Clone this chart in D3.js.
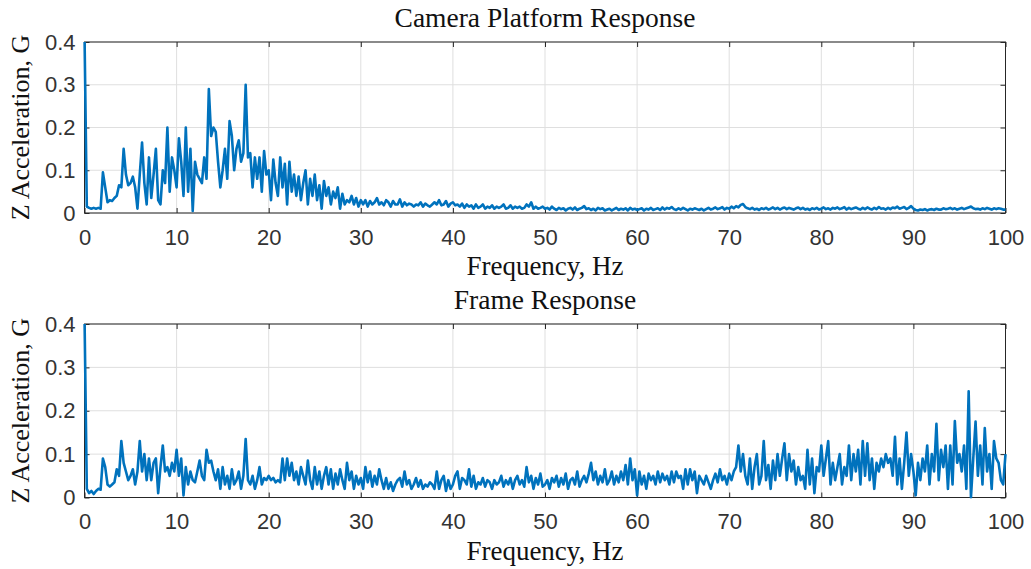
<!DOCTYPE html>
<html>
<head>
<meta charset="utf-8">
<script src="https://cdn.jsdelivr.net/npm/d3@7"></script>
<style>
  html, body { margin: 0; padding: 0; background: #fff; }
  svg { display: block; }
</style>
</head>
<body>
<svg id="chart" width="1031" height="569"></svg>
<script>
// Spectrum bins: 0 to 100 Hz in 0.25 Hz steps
const freqStep = 0.25;

// Camera platform Z acceleration amplitude (G), one row per 1 Hz (4 bins each)
const cameraResponse = [
  0.42, 0.015, 0.012, 0.01,
  0.012, 0.01, 0.012, 0.01,
  0.095, 0.06, 0.025, 0.03,
  0.028, 0.035, 0.04, 0.065,
  0.06, 0.15, 0.09, 0.065,
  0.07, 0.085, 0.06, 0.01,
  0.09, 0.165, 0.07, 0.02,
  0.13, 0.035, 0.09, 0.15,
  0.03, 0.02, 0.1, 0.07,
  0.2, 0.05, 0.13, 0.1,
  0.06, 0.175, 0.12, 0.04,
  0.2, 0.05, 0.15, 0.005,
  0.12, 0.09, 0.08, 0.07,
  0.13, 0.08, 0.29, 0.18,
  0.2, 0.19, 0.12, 0.06,
  0.1, 0.15, 0.08, 0.215,
  0.18, 0.1, 0.15, 0.17,
  0.12, 0.14, 0.3, 0.13,
  0.14, 0.06, 0.13, 0.08,
  0.13, 0.05, 0.145, 0.09,
  0.1, 0.03, 0.125, 0.07,
  0.04, 0.13, 0.06, 0.115,
  0.02, 0.12, 0.05, 0.09,
  0.04, 0.085, 0.03, 0.07,
  0.1, 0.02, 0.08, 0.04,
  0.09, 0.03, 0.065, 0.01,
  0.075, 0.04, 0.06, 0.02,
  0.05, 0.035, 0.06, 0.01,
  0.045, 0.02, 0.03, 0.025,
  0.04, 0.02, 0.035, 0.015,
  0.03, 0.02, 0.03, 0.015,
  0.028, 0.02, 0.025, 0.035,
  0.02, 0.025, 0.018, 0.03,
  0.025, 0.015, 0.028, 0.02,
  0.02, 0.032, 0.015, 0.025,
  0.018, 0.022, 0.02, 0.015,
  0.02, 0.018, 0.025, 0.015,
  0.022, 0.018, 0.015, 0.02,
  0.025, 0.02, 0.03, 0.018,
  0.02, 0.028, 0.015, 0.022,
  0.025, 0.018, 0.02, 0.015,
  0.022, 0.012, 0.02, 0.015,
  0.018, 0.01, 0.02, 0.012,
  0.015, 0.02, 0.01, 0.015,
  0.012, 0.018, 0.01, 0.015,
  0.012, 0.015, 0.02, 0.01,
  0.012, 0.018, 0.01, 0.015,
  0.012, 0.015, 0.01, 0.012,
  0.02, 0.015, 0.025, 0.01,
  0.015, 0.01, 0.012, 0.015,
  0.01, 0.012, 0.008, 0.015,
  0.01, 0.007, 0.012, 0.009,
  0.011, 0.006, 0.01, 0.012,
  0.008, 0.013, 0.007, 0.01,
  0.012, 0.016, 0.009, 0.011,
  0.007, 0.01, 0.006, 0.012,
  0.009, 0.011, 0.006, 0.008,
  0.01, 0.006, 0.009, 0.012,
  0.007, 0.01, 0.008, 0.011,
  0.006, 0.012, 0.008, 0.01,
  0.007, 0.009, 0.011, 0.006,
  0.01, 0.008, 0.012, 0.007,
  0.009, 0.011, 0.007, 0.013,
  0.008, 0.012, 0.01, 0.014,
  0.009, 0.007, 0.011, 0.008,
  0.012, 0.009, 0.006, 0.01,
  0.008, 0.011, 0.009, 0.007,
  0.01, 0.006, 0.009, 0.012,
  0.008, 0.01, 0.013, 0.009,
  0.011, 0.014, 0.008, 0.012,
  0.01, 0.015, 0.011, 0.016,
  0.013, 0.019, 0.021, 0.014,
  0.011, 0.009, 0.012, 0.008,
  0.01, 0.007, 0.011, 0.009,
  0.012, 0.008, 0.01, 0.013,
  0.009, 0.012, 0.008, 0.011,
  0.013, 0.009, 0.012, 0.01,
  0.008, 0.011, 0.013, 0.009,
  0.012, 0.008, 0.01, 0.007,
  0.011, 0.009, 0.012, 0.008,
  0.01, 0.013, 0.009, 0.011,
  0.008, 0.012, 0.01, 0.013,
  0.009, 0.011, 0.014, 0.008,
  0.012, 0.009, 0.011, 0.013,
  0.01, 0.008, 0.012, 0.009,
  0.013, 0.01, 0.008, 0.012,
  0.009, 0.014, 0.01, 0.011,
  0.008, 0.012, 0.009, 0.013,
  0.011, 0.015, 0.01, 0.012,
  0.014, 0.009, 0.012, 0.016,
  0.01, 0.007, 0.006, 0.008,
  0.007, 0.009, 0.006, 0.008,
  0.009, 0.007, 0.01, 0.008,
  0.008, 0.011, 0.009, 0.01,
  0.012, 0.009, 0.011, 0.008,
  0.01, 0.012, 0.009, 0.011,
  0.013, 0.015, 0.011, 0.009,
  0.01, 0.008, 0.011, 0.009,
  0.012, 0.01, 0.008, 0.011,
  0.009, 0.011, 0.01, 0.008,
  0.008
];

// Frame Z acceleration amplitude (G), same bins
const frameResponse = [
  0.42, 0.02, 0.01, 0.015,
  0.008, 0.015, 0.02, 0.018,
  0.09, 0.07, 0.03, 0.025,
  0.03, 0.035, 0.065, 0.05,
  0.13, 0.08, 0.06, 0.04,
  0.05, 0.065, 0.03, 0.06,
  0.13, 0.06, 0.1, 0.04,
  0.09, 0.04, 0.08, 0.09,
  0.01, 0.07, 0.12, 0.06,
  0.07, 0.05, 0.08, 0.06,
  0.11, 0.05, 0.09, 0.005,
  0.07, 0.03, 0.06, 0.04,
  0.035, 0.06, 0.085, 0.05,
  0.04, 0.11, 0.08, 0.085,
  0.06, 0.04, 0.065, 0.02,
  0.07, 0.03, 0.05, 0.02,
  0.065, 0.03, 0.04, 0.06,
  0.02, 0.05, 0.135, 0.04,
  0.03, 0.05, 0.02, 0.04,
  0.07, 0.03, 0.045, 0.04,
  0.05, 0.04, 0.045, 0.035,
  0.04, 0.035, 0.09, 0.04,
  0.09, 0.05, 0.08, 0.04,
  0.06, 0.03, 0.07, 0.05,
  0.03, 0.085, 0.04, 0.02,
  0.07, 0.03, 0.06, 0.02,
  0.05, 0.07, 0.03, 0.065,
  0.02, 0.055, 0.03, 0.065,
  0.04, 0.02, 0.08, 0.04,
  0.06, 0.02, 0.05, 0.03,
  0.045, 0.02, 0.07, 0.035,
  0.06, 0.025, 0.05, 0.03,
  0.065, 0.04, 0.02, 0.045,
  0.02, 0.035, 0.015, 0.03,
  0.04, 0.045, 0.025, 0.06,
  0.03, 0.04, 0.02, 0.03,
  0.045, 0.025, 0.04, 0.02,
  0.03, 0.025, 0.035, 0.03,
  0.02, 0.06, 0.02, 0.04,
  0.05, 0.015, 0.04, 0.02,
  0.03, 0.05, 0.06, 0.02,
  0.045, 0.04, 0.03, 0.065,
  0.025, 0.05, 0.02, 0.035,
  0.03, 0.045, 0.025, 0.04,
  0.035, 0.02, 0.04, 0.03,
  0.035, 0.05, 0.025, 0.04,
  0.03, 0.045, 0.02, 0.04,
  0.05, 0.03, 0.04, 0.025,
  0.07, 0.035, 0.05, 0.02,
  0.045, 0.03, 0.055, 0.025,
  0.03, 0.04, 0.02, 0.045,
  0.035, 0.05, 0.025, 0.045,
  0.03, 0.055, 0.02, 0.04,
  0.045, 0.03, 0.06, 0.025,
  0.04, 0.05, 0.035, 0.055,
  0.08, 0.04, 0.06, 0.03,
  0.05, 0.035, 0.065, 0.03,
  0.04, 0.06, 0.03, 0.05,
  0.035, 0.06, 0.04, 0.075,
  0.03, 0.09, 0.04, 0.065,
  0.005, 0.06, 0.03, 0.05,
  0.02, 0.055, 0.04, 0.05,
  0.03, 0.06, 0.035, 0.055,
  0.04, 0.05, 0.03, 0.06,
  0.035, 0.06, 0.045, 0.05,
  0.02, 0.065, 0.03, 0.065,
  0.04, 0.06, 0.01, 0.05,
  0.04, 0.03, 0.05, 0.035,
  0.02, 0.04, 0.055, 0.035,
  0.065, 0.04, 0.05, 0.03,
  0.055, 0.04, 0.06, 0.07,
  0.12, 0.06, 0.1, 0.05,
  0.03, 0.09, 0.02, 0.07,
  0.1, 0.03, 0.05, 0.13,
  0.04, 0.075, 0.02, 0.085,
  0.04, 0.1, 0.05, 0.09,
  0.125, 0.04, 0.1, 0.06,
  0.085, 0.03, 0.07, 0.04,
  0.05, 0.02, 0.11, 0.03,
  0.09, 0.01, 0.07, 0.06,
  0.12, 0.05, 0.09, 0.13,
  0.03, 0.08, 0.04, 0.07,
  0.1, 0.03, 0.07, 0.05,
  0.12, 0.04, 0.1, 0.06,
  0.11, 0.03, 0.13, 0.05,
  0.125, 0.04, 0.09, 0.02,
  0.08, 0.06, 0.09, 0.07,
  0.1, 0.08, 0.09, 0.05,
  0.14, 0.03, 0.09, 0.02,
  0.08, 0.15, 0.05, 0.1,
  0.06, 0.005, 0.08, 0.04,
  0.09, 0.06, 0.12, 0.03,
  0.1, 0.06, 0.17, 0.04,
  0.11, 0.07, 0.12, 0.02,
  0.12, 0.03, 0.176, 0.08,
  0.1, 0.06, 0.12, 0.02,
  0.245, 0.0, 0.09, 0.175,
  0.05, 0.12, 0.03, 0.16,
  0.06, 0.1, 0.02, 0.13,
  0.09, 0.08, 0.04, 0.03,
  0.1
];

const xTicks = [0, 10, 20, 30, 40, 50, 60, 70, 80, 90, 100];
const yTicks = [0, 0.1, 0.2, 0.3, 0.4];
const xTickLabels = ["0", "10", "20", "30", "40", "50", "60", "70", "80", "90", "100"];
const yTickLabels = ["0", "0.1", "0.2", "0.3", "0.4"];

const panels = [
  { title: "Camera Platform Response", values: cameraResponse, top: 42, bottom: 213 },
  { title: "Frame Response", values: frameResponse, top: 324, bottom: 497.5 }
];

const svg = d3.select("#chart");
const left = 84.5, right = 1005.5;
const lineColor = "#0072BD";
const axisColor = "#262626";
const serif = "'Liberation Serif', 'Times New Roman', serif";
const sans = "'Liberation Sans', Arial, Helvetica, sans-serif";

const x = d3.scaleLinear().domain([0, 100]).range([left, right]);

panels.forEach((p, k) => {
  const y = d3.scaleLinear().domain([0, 0.4]).range([p.bottom, p.top]);
  const g = svg.append("g");

  // grid
  g.append("g").selectAll("line").data(xTicks).join("line")
    .attr("x1", d => x(d)).attr("x2", d => x(d))
    .attr("y1", p.top).attr("y2", p.bottom)
    .attr("stroke", "#dfdfdf").attr("stroke-width", 1);
  g.append("g").selectAll("line").data(yTicks).join("line")
    .attr("x1", left).attr("x2", right)
    .attr("y1", d => y(d)).attr("y2", d => y(d))
    .attr("stroke", "#dfdfdf").attr("stroke-width", 1);

  // axes (ticks point inward, box on)
  const xAxis = d3.axisBottom(x).tickValues(xTicks).tickFormat((d, i) => xTickLabels[i])
    .tickSizeInner(-5).tickSizeOuter(0).tickPadding(16);
  const ax = g.append("g").attr("transform", `translate(0,${p.bottom})`).call(xAxis);
  const xTop = d3.axisTop(x).tickValues(xTicks).tickFormat("").tickSizeInner(-5).tickSizeOuter(0);
  const axT = g.append("g").attr("transform", `translate(0,${p.top})`).call(xTop);

  const yAxis = d3.axisLeft(y).tickValues(yTicks).tickFormat((d, i) => yTickLabels[i])
    .tickSizeInner(-5).tickSizeOuter(0).tickPadding(9);
  const ay = g.append("g").attr("transform", `translate(${left},0)`).call(yAxis);
  const yRight = d3.axisRight(y).tickValues(yTicks).tickFormat("").tickSizeInner(-5).tickSizeOuter(0);
  const ayR = g.append("g").attr("transform", `translate(${right},0)`).call(yRight);

  [ax, axT, ay, ayR].forEach(a => {
    a.select(".domain").remove();
    a.selectAll(".tick line").attr("stroke", axisColor).attr("stroke-width", 1);
    a.selectAll(".tick text").attr("fill", "#333").style("font-family", sans).style("font-size", "22px");
  });

  // box
  g.append("rect")
    .attr("x", left).attr("y", p.top).attr("width", right - left).attr("height", p.bottom - p.top)
    .attr("fill", "none").attr("stroke", axisColor).attr("stroke-width", 1);

  // data, drawn over the box
  const clipId = "clip" + k;
  svg.append("clipPath").attr("id", clipId).append("rect")
    .attr("x", left - 2).attr("y", p.top).attr("width", right - left + 4).attr("height", p.bottom - p.top + 1);

  const line = d3.line()
    .x((d, i) => x(i * freqStep))
    .y(d => y(d));

  g.append("path")
    .datum(p.values)
    .attr("clip-path", `url(#${clipId})`)
    .attr("fill", "none")
    .attr("stroke", lineColor)
    .attr("stroke-width", 2.6)
    .attr("stroke-linejoin", "round")
    .attr("d", line);

  // title
  g.append("text")
    .attr("x", (left + right) / 2).attr("y", p.top - 15)
    .attr("text-anchor", "middle")
    .style("font-family", serif).style("font-size", "27.5px").attr("fill", "#111")
    .text(p.title);

  // x label
  g.append("text")
    .attr("x", (left + right) / 2).attr("y", p.bottom + 62)
    .attr("text-anchor", "middle")
    .style("font-family", serif).style("font-size", "27px").attr("fill", "#111")
    .text("Frequency, Hz");

  // y label
  g.append("text")
    .attr("transform", `translate(29,${(p.top + p.bottom) / 2}) rotate(-90)`)
    .attr("text-anchor", "middle")
    .style("font-family", serif).style("font-size", "26px").attr("fill", "#111")
    .text("Z Acceleration, G");
});
</script>
</body>
</html>
